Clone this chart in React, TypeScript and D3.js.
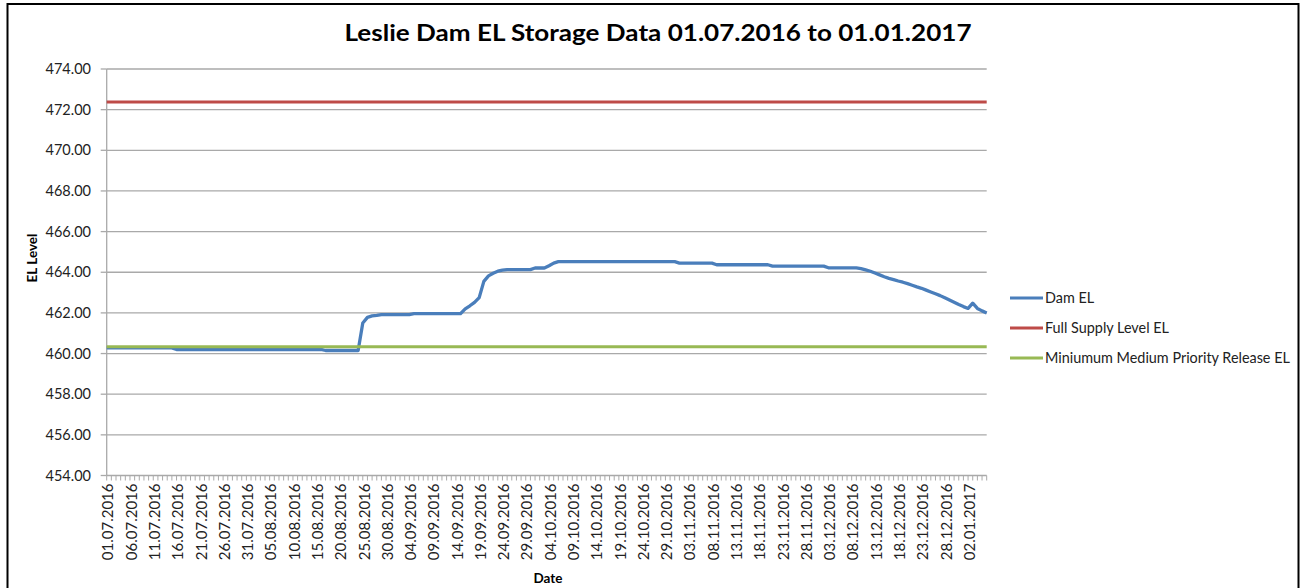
import React from 'react';
import * as d3 from 'd3';

const W = 1306;
const H = 588;

// Categories: daily dates 01.07.2016 .. 06.01.2017
const fmt = d3.timeFormat('%d.%m.%Y');
const categories: string[] = d3.timeDay.range(new Date(2016, 6, 1), new Date(2017, 0, 7)).map((d) => fmt(d));

const xTickLabels = [
  '01.07.2016', '06.07.2016', '11.07.2016', '16.07.2016', '21.07.2016', '26.07.2016', '31.07.2016',
  '05.08.2016', '10.08.2016', '15.08.2016', '20.08.2016', '25.08.2016', '30.08.2016',
  '04.09.2016', '09.09.2016', '14.09.2016', '19.09.2016', '24.09.2016', '29.09.2016',
  '04.10.2016', '09.10.2016', '14.10.2016', '19.10.2016', '24.10.2016', '29.10.2016',
  '03.11.2016', '08.11.2016', '13.11.2016', '18.11.2016', '23.11.2016', '28.11.2016',
  '03.12.2016', '08.12.2016', '13.12.2016', '18.12.2016', '23.12.2016', '28.12.2016',
  '02.01.2017',
];

const yTicks = [454, 456, 458, 460, 462, 464, 466, 468, 470, 472, 474];

const damEL = [
  460.28, 460.28, 460.28, 460.28, 460.28, 460.28, 460.28, 460.28, 460.28, 460.28,
  460.28, 460.28, 460.28, 460.28, 460.28, 460.20, 460.20, 460.20, 460.20, 460.20,
  460.20, 460.20, 460.20, 460.20, 460.20, 460.20, 460.20, 460.20, 460.20, 460.20,
  460.20, 460.20, 460.20, 460.20, 460.20, 460.20, 460.20, 460.20, 460.20, 460.20,
  460.20, 460.20, 460.20, 460.20, 460.20, 460.20, 460.20, 460.15, 460.15, 460.15,
  460.15, 460.15, 460.15, 460.15, 460.15, 461.50, 461.78, 461.85, 461.88, 461.92,
  461.92, 461.92, 461.92, 461.92, 461.92, 461.92, 461.96, 461.96, 461.96, 461.96,
  461.96, 461.96, 461.96, 461.96, 461.96, 461.96, 461.96, 462.20, 462.35, 462.52,
  462.75, 463.55, 463.82, 463.95, 464.05, 464.10, 464.13, 464.13, 464.13, 464.13,
  464.13, 464.13, 464.21, 464.21, 464.21, 464.32, 464.45, 464.52, 464.52, 464.52,
  464.52, 464.52, 464.52, 464.52, 464.52, 464.52, 464.52, 464.52, 464.52, 464.52,
  464.52, 464.52, 464.52, 464.52, 464.52, 464.52, 464.52, 464.52, 464.52, 464.52,
  464.52, 464.52, 464.52, 464.45, 464.45, 464.45, 464.45, 464.45, 464.45, 464.45,
  464.45, 464.37, 464.37, 464.37, 464.37, 464.37, 464.37, 464.37, 464.37, 464.37,
  464.37, 464.37, 464.37, 464.30, 464.30, 464.30, 464.30, 464.30, 464.30, 464.30,
  464.30, 464.30, 464.30, 464.30, 464.30, 464.22, 464.22, 464.22, 464.22, 464.22,
  464.22, 464.22, 464.18, 464.12, 464.05, 463.96, 463.87, 463.78, 463.70, 463.64,
  463.57, 463.51, 463.44, 463.36, 463.28, 463.21, 463.12, 463.03, 462.94, 462.85,
  462.74, 462.63, 462.52, 462.41, 462.31, 462.22, 462.48, 462.22, 462.10, 462.00,
];

const fullSupplyLevel = 472.38;
const minMediumPriorityRelease = 460.34;

const seriesNames = ['Dam EL', 'Full Supply Level EL', 'Miniumum Medium Priority Release EL'];
const seriesColors = ['#4a7ebb', '#be4b48', '#98b954'];

const FONT = 'Lato, "Noto Sans", sans-serif';

export default function App() {
  const left = 106.7;
  const right = 986.7;
  const top = 69;
  const bottom = 475.5;

  const x = d3.scalePoint<string>().domain(categories).range([left, right]);
  const y = d3.scaleLinear().domain([454, 474]).range([bottom, top]);

  const line = d3
    .line<number>()
    .x((_, i) => x(categories[i]) as number)
    .y((d) => y(d));

  const constLine = (v: number) =>
    d3.line<string>().x((c) => x(c) as number).y(() => y(v))([categories[0], categories[categories.length - 1]]) as string;

  const f2 = d3.format('.2f');
  const legendY = [298, 328, 358];

  return (
    <div style={{ position: 'absolute', left: 0, top: 0 }}>
      <svg width={W} height={H} style={{ display: 'block', background: '#fff' }}>
        <rect x={7.5} y={4} width={1291} height={620} fill="#fff" stroke="#000" strokeWidth={2} />
        <text
          x={658}
          y={41}
          textAnchor="middle"
          fontFamily={FONT}
          fontWeight="bold"
          fontSize={23}
          fill="#000"
          textLength={627}
          lengthAdjust="spacingAndGlyphs"
        >
          Leslie Dam EL Storage Data 01.07.2016 to 01.01.2017
        </text>

        {/* gridlines */}
        {yTicks.map((t) => (
          <line key={'g' + t} x1={left} x2={right} y1={y(t)} y2={y(t)} stroke="#a9a9a9" strokeWidth={1.3} />
        ))}
        {/* y axis */}
        <line x1={left} x2={left} y1={top} y2={bottom} stroke="#a9a9a9" strokeWidth={1.3} />
        {yTicks.map((t) => (
          <g key={'yt' + t}>
            <line x1={left - 6} x2={left} y1={y(t)} y2={y(t)} stroke="#a9a9a9" strokeWidth={1.3} />
            <text x={91} y={y(t)} dy="0.35em" textAnchor="end" fontFamily={FONT} fontSize={14.5} fill="#222">
              {f2(t)}
            </text>
          </g>
        ))}
        {/* x axis ticks */}
        {categories.map((c) => (
          <line key={'xt' + c} x1={x(c)} x2={x(c)} y1={bottom} y2={bottom + 5} stroke="#a9a9a9" strokeWidth={1} />
        ))}
        {xTickLabels.map((lab) => (
          <text
            key={'xl' + lab}
            transform={`translate(${(x(lab) as number) + 1.5},${bottom + 8}) rotate(-90)`}
            dy="0.35em"
            textAnchor="end"
            fontFamily={FONT}
            fontSize={15}
            fill="#222"
          >
            {lab}
          </text>
        ))}

        {/* series */}
        <path d={constLine(fullSupplyLevel)} fill="none" stroke={seriesColors[1]} strokeWidth={3} />
        <path d={line(damEL) as string} fill="none" stroke={seriesColors[0]} strokeWidth={3.3} strokeLinejoin="round" />
        <path d={constLine(minMediumPriorityRelease)} fill="none" stroke={seriesColors[2]} strokeWidth={3} />

        {/* axis titles */}
        <text
          transform={`translate(37,258) rotate(-90)`}
          textAnchor="middle"
          fontFamily={FONT}
          fontWeight="bold"
          fontSize={13.5}
          fill="#000"
        >
          EL Level
        </text>
        <text x={548} y={583} textAnchor="middle" fontFamily={FONT} fontWeight="bold" fontSize={13.5} fill="#000">
          Date
        </text>

        {/* legend */}
        {seriesNames.map((n, i) => (
          <g key={n}>
            <line x1={1010} x2={1043} y1={legendY[i]} y2={legendY[i]} stroke={seriesColors[i]} strokeWidth={3} />
            <text x={1045} y={legendY[i]} dy="0.35em" fontFamily={FONT} fontSize={14.4} fill="#222">
              {n}
            </text>
          </g>
        ))}
      </svg>
    </div>
  );
}
